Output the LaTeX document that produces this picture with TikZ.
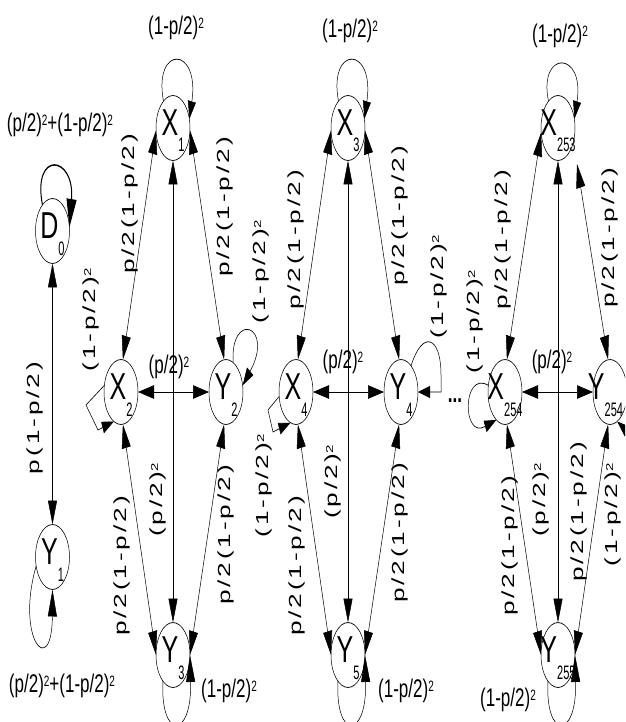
\documentclass[tikz,border=0pt]{standalone}
\usepackage{graphicx}
\usepackage{fontspec}
\setmainfont{Liberation Sans}
\newfontfamily\spacedfont[LetterSpace=11]{Liberation Sans}
\usetikzlibrary{arrows.meta,shapes.geometric}
% squared exponent
\newcommand\sq{\raisebox{4.3pt}{\fontsize{10}{10}\selectfont 2}}
% state name with index, occupying no room inside its ellipse;
% the optional argument moves it sideways
\newcommand\stname[3][0pt]{\makebox[0pt]{\hspace*{#1}\raisebox{-5pt}[0pt][0pt]{\fontsize{25}{25}\selectfont #2\raisebox{-11pt}{\fontsize{13}{13}\selectfont\scalebox{0.85}[1]{#3}}}}}
\tikzset{
  st/.style={draw, ellipse, line width=0.5pt, minimum width=34pt, minimum height=43.3pt, inner sep=0pt, outer sep=0pt},
  lab/.style={inner sep=0pt, font=\fontsize{17}{19}\selectfont},
  rlab/.style={inner sep=0pt, rotate=90, font=\spacedfont\fontsize{17.5}{19}\selectfont},
  edge/.style={line width=0.5pt, {Triangle[length=16pt,width=9pt]}-{Triangle[length=16pt,width=9pt]}},
  selfloop/.style={line width=0.5pt, -{Triangle[length=12pt,width=8pt]}},
  bigloop/.style={line width=0.5pt, -{Triangle[length=18pt,width=9pt]}},
}
\begin{document}
\begin{tikzpicture}
\useasboundingbox (0pt,0pt) rectangle (625pt,-722pt);
\clip (0pt,0pt) rectangle (625pt,-722pt);
% the whole chain is stretched vertically
\begin{scope}[transform canvas={yscale=1.5}, x=1pt, y=-0.666667pt]
  % states
  \node[st] (D0) at (52.5,231) {\stname{D}{0}};
  \node[st] (Y1) at (52.5,557) {\stname{Y}{1}};

  \node[st] (X1) at (173,128) {\stname{X}{1}};
  \node[st] (X2) at (121,392) {\stname{X}{2}};
  \node[st] (Y2) at (226,392) {\stname{Y}{2}};
  \node[st] (Y3) at (173,655) {\stname{Y}{3}};

  \node[st] (X3) at (348,128) {\stname{X}{3}};
  \node[st] (X4) at (296,392) {\stname{X}{4}};
  \node[st] (Y4) at (401,392) {\stname{Y}{4}};
  \node[st] (Y5) at (348,655) {\stname{Y}{5}};

  \node[st] (X253) at (558,128) {\stname{X}{253}};
  \node[st] (X254) at (505,392) {\stname{X}{254}};
  \node[st] (Y254) at (610,392) {\stname[-9pt]{Y}{254}};
  \node[st] (Y255) at (558,655) {\stname{Y}{255}};
  \coordinate (X253se) at (577,164);

  % transitions
  \draw[edge] (D0.south) -- (Y1.north);

  \draw[edge] (X1.185) -- (X2.85);
  \draw[edge] (X1.355) -- (Y2.95);
  \draw[edge] (X1.south) -- (Y3.north);
  \draw[edge] (X2.east) -- (Y2.west);
  \draw[edge] (X2.275) -- (Y3.180);
  \draw[edge] (Y2.265) -- (Y3.0);

  \draw[edge] (X3.185) -- (X4.85);
  \draw[edge] (X3.355) -- (Y4.95);
  \draw[edge] (X3.south) -- (Y5.north);
  \draw[edge] (X4.east) -- (Y4.west);
  \draw[edge] (X4.275) -- (Y5.180);
  \draw[edge] (Y4.265) -- (Y5.0);

  \draw[edge] (X253.190) -- (X254.85);
  \draw[edge] (X253se) -- (Y254.95);
  \draw[edge] (X253.south) -- (Y255.north);
  \draw[edge] (X254.east) -- (Y254.west);
  \draw[edge] (X254.275) -- (Y255.180);
  \draw[edge] (Y254.265) -- (Y255.0);

  % self loops
  \draw[bigloop, line width=1pt, -{Triangle[length=19pt,width=10pt]}] (D0.120) .. controls (32,150) and (75,155) .. (D0.8);
  \draw[bigloop] (Y1.200) .. controls (15,640) and (52,680) .. (Y1.south);

  \draw[selfloop] (X1.118) .. controls (153,45) and (200,45) .. (X1.20);
  \draw[selfloop] (X3.118) .. controls (328,45) and (375,45) .. (X3.20);
  \draw[selfloop] (X253.118) .. controls (538,50) and (585,50) .. (X253.20);

  \draw[selfloop] (X2.165) -- (86,405) -- (98,430) -- (X2.250);
  \draw[selfloop] (X4.190) -- (268,410) -- (273,432) -- (X4.255);
  \draw[selfloop] (X254.165) .. controls (462,370) and (462,440) .. (X254.245);

  \draw[selfloop] (Y2.70) .. controls (230,310) and (275,325) .. (Y2.15);
  \draw[selfloop] (Y4.60) .. controls (422,330) and (441,335) .. (441,375) |- (Y4.east);
  \draw[selfloop] (Y254.15) .. controls (675,365) and (680,485) .. (Y254.290);

  \draw[bigloop] (Y3.240) .. controls (160,740) and (192,740) .. (Y3.east);
  \draw[bigloop] (Y5.240) .. controls (335,740) and (367,740) .. (Y5.east);
  \draw[bigloop] (Y255.240) .. controls (545,740) and (577,740) .. (Y255.east);

  % probabilities
  \node[lab] (pD0) at (60,125) {(p/2)\sq+(1-p/2)\sq};
  \node[lab] (pY1) at (62,686) {(p/2)\sq+(1-p/2)\sq};
  \node[rlab] (pD0Y1) at (35,418) {p(1-p/2)};

  \node[lab] (pX1) at (176,28) {(1-p/2)\sq};
  \node[lab] (pX3) at (350,31) {(1-p/2)\sq};
  \node[lab] (pX253) at (560,36) {(1-p/2)\sq};

  \node[lab] (pX2Y2) at (169,367) {(p/2)\sq};
  \node[lab] (pX4Y4) at (343,362) {(p/2)\sq};
  \node[lab] (pX254Y254) at (552,362) {(p/2)\sq};

  \node[lab] (pY3) at (229,691) {(1-p/2)\sq};
  \node[lab] (pY5) at (406,691) {(1-p/2)\sq};
  \node[lab] (pY255) at (508,700) {(1-p/2)\sq};

  \node[rlab] (pX1X2) at (130,204) {p/2(1-p/2)};
  \node[rlab] (pX1Y2) at (225,207) {p/2(1-p/2)};
  \node[rlab] (pX3X4) at (296,240) {p/2(1-p/2)};
  \node[rlab] (pX3Y4) at (400,216) {p/2(1-p/2)};
  \node[rlab] (pX253X254) at (503,240) {p/2(1-p/2)};
  \node[rlab] (pX253Y254) at (610,238) {p/2(1-p/2)};

  \node[rlab] (pX2) at (91,320) {(1-p/2)\sq};
  \node[rlab] (pY2) at (261,272) {(1-p/2)\sq};
  \node[rlab] (pX4) at (264,486) {(1-p/2)\sq};
  \node[rlab] (pY4) at (439,287) {(1-p/2)\sq};
  \node[rlab] (pX254) at (475,322) {(1-p/2)\sq};
  \node[rlab] (pY254) at (613,515) {(1-p/2)\sq};

  \node[rlab] (pX1Y3) at (158,500) {(p/2)\sq};
  \node[rlab] (pX3Y5) at (333,482) {(p/2)\sq};
  \node[rlab] (pX253Y255) at (541,500) {(p/2)\sq};

  \node[rlab] (pX2Y3) at (122,566) {p/2(1-p/2)};
  \node[rlab] (pY2Y3) at (226,535) {p/2(1-p/2)};
  \node[rlab] (pX4Y5) at (297,566) {p/2(1-p/2)};
  \node[rlab] (pY4Y5) at (400,533) {p/2(1-p/2)};
  \node[rlab] (pX254Y255) at (510,546) {p/2(1-p/2)};
  \node[rlab] (pY254Y255) at (579,512) {p/2(1-p/2)};

  \node[lab] (dots) at (455,401) {\textbf{...}};
\end{scope}
\end{tikzpicture}
\end{document}
